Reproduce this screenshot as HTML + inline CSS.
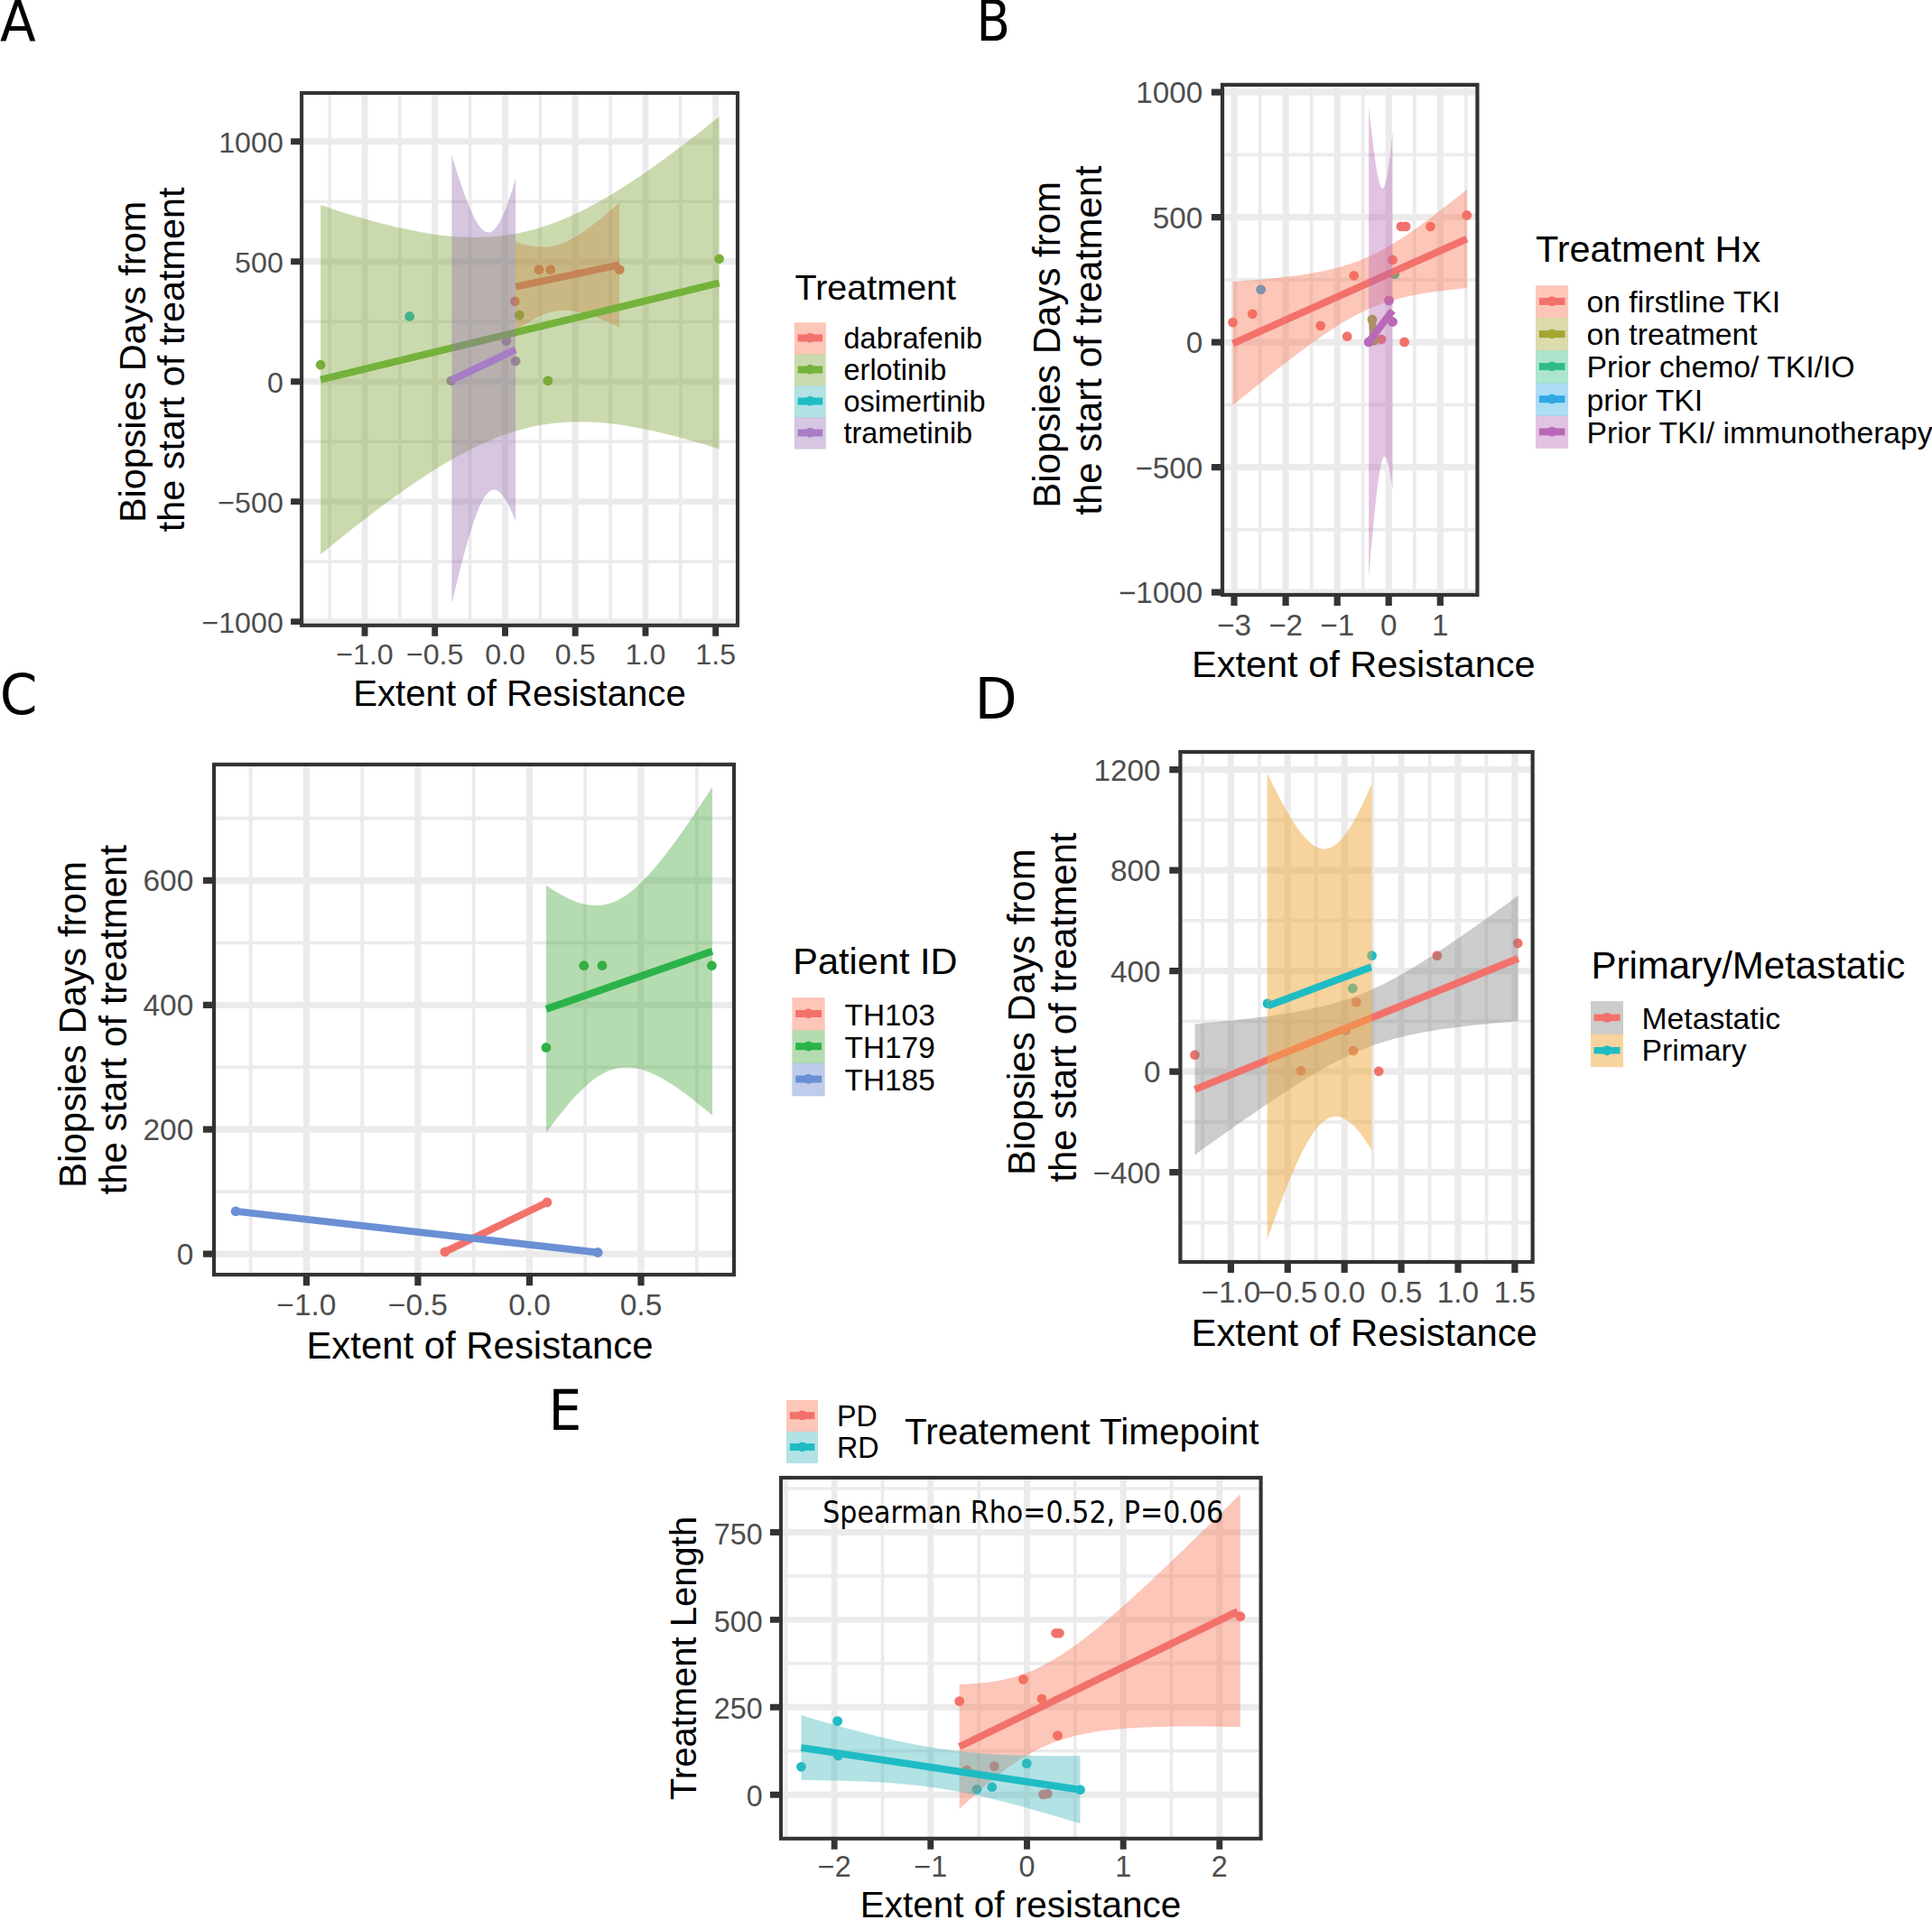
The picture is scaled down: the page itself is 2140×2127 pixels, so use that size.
<!DOCTYPE html>
<html lang="en"><head><meta charset="utf-8"><title>Figure</title>
<style>html,body{margin:0;padding:0;background:#fff}svg{display:block}</style></head>
<body>
<svg width="2140" height="2127" viewBox="0 0 2140 2127" font-family="'Liberation Sans', Arial, Helvetica, sans-serif" fill="#000">
<rect width="2140" height="2127" fill="#fff"/>
<g font-family="'DejaVu Sans Condensed','DejaVu Sans','Liberation Sans',sans-serif" font-stretch="condensed" font-size="62">
<text transform="translate(0,45.5) scale(1.04,1)">A</text>
<text transform="translate(1081.4,45.3) scale(0.98,1)">B</text>
<text transform="translate(-0.3,791.4) scale(1.07,1)">C</text>
<text transform="translate(1079.4,796.3) scale(1.1,1)">D</text>
<text transform="translate(607.4,1584) scale(1.045,1)">E</text>
</g>
<clipPath id="cA"><rect x="334.1" y="103" width="482.9" height="589.8"/></clipPath>
<g clip-path="url(#cA)">
<rect x="334.1" y="103" width="482.9" height="589.8" fill="#fff"/>
<path d="M365.1,103V692.8M442.9,103V692.8M520.6,103V692.8M598.4,103V692.8M676.1,103V692.8M753.8,103V692.8M334.1,223.2H817M334.1,356.2H817M334.1,489.1H817M334.1,622.1H817" stroke="#ebebeb" stroke-width="3.6" fill="none"/>
<path d="M404,103V692.8M481.7,103V692.8M559.5,103V692.8M637.2,103V692.8M715,103V692.8M792.7,103V692.8M334.1,156.7H817M334.1,289.7H817M334.1,422.7H817M334.1,555.6H817M334.1,688.6H817" stroke="#ebebeb" stroke-width="6.9" fill="none"/>
<g fill="#74b23c"><circle cx="355.1" cy="404.2" r="5.4"/><circle cx="796.6" cy="286.8" r="5.4"/><circle cx="575.3" cy="349.1" r="5.4"/><circle cx="606.9" cy="421.8" r="5.4"/></g>
<g fill="#1fbcc4"><circle cx="453.7" cy="350.5" r="5.4"/></g>
<g fill="#f3716b"><circle cx="596.8" cy="298.6" r="5.4"/><circle cx="609.7" cy="298.6" r="5.4"/><circle cx="686.2" cy="298.6" r="5.4"/><circle cx="570.3" cy="333.8" r="5.4"/></g>
<g fill="#a87cc6"><circle cx="560.8" cy="377.6" r="5.4"/><circle cx="571.1" cy="400" r="5.4"/><circle cx="499.8" cy="421.8" r="5.4"/></g>
<path d="M571.1,268 L573,268.6 L574.9,269.2 L576.9,269.8 L578.8,270.4 L580.7,270.9 L582.6,271.3 L584.5,271.8 L586.4,272.2 L588.4,272.5 L590.3,272.8 L592.2,273.1 L594.1,273.3 L596,273.5 L598,273.6 L599.9,273.7 L601.8,273.6 L603.7,273.6 L605.6,273.5 L607.5,273.3 L609.5,273 L611.4,272.7 L613.3,272.3 L615.2,271.9 L617.1,271.4 L619.1,270.8 L621,270.2 L622.9,269.5 L624.8,268.7 L626.7,267.9 L628.7,267 L630.6,266.1 L632.5,265.1 L634.4,264 L636.3,262.9 L638.2,261.8 L640.2,260.6 L642.1,259.4 L644,258.2 L645.9,256.9 L647.8,255.5 L649.8,254.2 L651.7,252.8 L653.6,251.4 L655.5,249.9 L657.4,248.5 L659.3,247 L661.3,245.4 L663.2,243.9 L665.1,242.3 L667,240.8 L668.9,239.2 L670.9,237.6 L672.8,235.9 L674.7,234.3 L676.6,232.6 L678.5,231 L680.4,229.3 L682.4,227.6 L684.3,225.9 L686.2,224.2 L686.2,362.6 L684.3,361.7 L682.4,360.8 L680.4,359.9 L678.5,359 L676.6,358.2 L674.7,357.3 L672.8,356.5 L670.9,355.7 L668.9,354.9 L667,354.1 L665.1,353.3 L663.2,352.6 L661.3,351.8 L659.3,351.1 L657.4,350.4 L655.5,349.8 L653.6,349.1 L651.7,348.5 L649.8,347.9 L647.8,347.4 L645.9,346.9 L644,346.4 L642.1,345.9 L640.2,345.5 L638.2,345.2 L636.3,344.8 L634.4,344.6 L632.5,344.3 L630.6,344.1 L628.7,344 L626.7,343.9 L624.8,343.9 L622.9,344 L621,344.1 L619.1,344.2 L617.1,344.5 L615.2,344.8 L613.3,345.1 L611.4,345.6 L609.5,346 L607.5,346.6 L605.6,347.2 L603.7,347.9 L601.8,348.6 L599.9,349.4 L598,350.3 L596,351.2 L594.1,352.2 L592.2,353.2 L590.3,354.3 L588.4,355.4 L586.4,356.6 L584.5,357.8 L582.6,359 L580.7,360.3 L578.8,361.6 L576.9,363 L574.9,364.4 L573,365.8 L571.1,367.2Z" fill="#f77050" fill-opacity="0.4"/>
<path d="M571.1,317.6L686.2,293.4" stroke="#f3716b" stroke-width="8" fill="none"/>
<path d="M355.1,227.2 L362.5,229.6 L369.8,232 L377.2,234.4 L384.5,236.7 L391.9,238.9 L399.2,241.1 L406.6,243.2 L414,245.2 L421.3,247.2 L428.7,249 L436,250.8 L443.4,252.5 L450.8,254.1 L458.1,255.6 L465.5,257 L472.8,258.3 L480.2,259.4 L487.6,260.4 L494.9,261.2 L502.3,261.9 L509.6,262.4 L517,262.7 L524.3,262.9 L531.7,262.8 L539.1,262.6 L546.4,262.1 L553.8,261.4 L561.1,260.5 L568.5,259.3 L575.9,257.9 L583.2,256.3 L590.6,254.4 L597.9,252.3 L605.3,249.9 L612.6,247.3 L620,244.5 L627.4,241.4 L634.7,238.1 L642.1,234.7 L649.4,231 L656.8,227.1 L664.2,223.1 L671.5,218.8 L678.9,214.5 L686.2,209.9 L693.6,205.2 L700.9,200.4 L708.3,195.5 L715.7,190.5 L723,185.3 L730.4,180.1 L737.7,174.7 L745.1,169.3 L752.5,163.7 L759.8,158.2 L767.2,152.5 L774.5,146.8 L781.9,141 L789.2,135.1 L796.6,129.2 L796.6,497.6 L789.2,495.3 L781.9,493 L774.5,490.8 L767.2,488.6 L759.8,486.5 L752.5,484.5 L745.1,482.6 L737.7,480.7 L730.4,478.9 L723,477.3 L715.7,475.7 L708.3,474.2 L700.9,472.9 L693.6,471.6 L686.2,470.5 L678.9,469.6 L671.5,468.8 L664.2,468.1 L656.8,467.7 L649.4,467.4 L642.1,467.3 L634.7,467.4 L627.4,467.7 L620,468.2 L612.6,468.9 L605.3,469.9 L597.9,471.1 L590.6,472.6 L583.2,474.3 L575.9,476.2 L568.5,478.4 L561.1,480.8 L553.8,483.4 L546.4,486.3 L539.1,489.4 L531.7,492.7 L524.3,496.3 L517,500 L509.6,503.9 L502.3,508 L494.9,512.2 L487.6,516.6 L480.2,521.2 L472.8,525.9 L465.5,530.7 L458.1,535.7 L450.8,540.8 L443.4,546 L436,551.2 L428.7,556.6 L421.3,562.1 L414,567.6 L406.6,573.2 L399.2,578.9 L391.9,584.6 L384.5,590.4 L377.2,596.3 L369.8,602.2 L362.5,608.2 L355.1,614.2Z" fill="#7da234" fill-opacity="0.4"/>
<path d="M355.1,420.7L796.6,313.4" stroke="#74b23c" stroke-width="8" fill="none"/>
<path d="M500.4,171.8 L501.6,175.7 L502.8,179.6 L503.9,183.4 L505.1,187.2 L506.3,190.9 L507.5,194.6 L508.6,198.2 L509.8,201.8 L511,205.3 L512.2,208.7 L513.4,212.1 L514.5,215.3 L515.7,218.5 L516.9,221.7 L518.1,224.7 L519.3,227.6 L520.4,230.5 L521.6,233.2 L522.8,235.8 L524,238.3 L525.1,240.7 L526.3,243 L527.5,245.1 L528.7,247.1 L529.9,248.9 L531,250.5 L532.2,252 L533.4,253.4 L534.6,254.5 L535.8,255.5 L536.9,256.3 L538.1,256.8 L539.3,257.2 L540.5,257.4 L541.6,257.4 L542.8,257.2 L544,256.7 L545.2,256.1 L546.4,255.2 L547.5,254.1 L548.7,252.9 L549.9,251.4 L551.1,249.8 L552.2,247.9 L553.4,245.9 L554.6,243.7 L555.8,241.3 L557,238.8 L558.1,236 L559.3,233.2 L560.5,230.2 L561.7,227 L562.9,223.7 L564,220.3 L565.2,216.7 L566.4,213.1 L567.6,209.3 L568.7,205.4 L569.9,201.5 L571.1,197.4 L571.1,577.4 L569.9,574.4 L568.7,571.6 L567.6,568.8 L566.4,566.1 L565.2,563.5 L564,561.1 L562.9,558.8 L561.7,556.6 L560.5,554.5 L559.3,552.6 L558.1,550.8 L557,549.2 L555.8,547.7 L554.6,546.5 L553.4,545.3 L552.2,544.4 L551.1,543.7 L549.9,543.1 L548.7,542.8 L547.5,542.6 L546.4,542.6 L545.2,542.9 L544,543.3 L542.8,544 L541.6,544.8 L540.5,545.9 L539.3,547.2 L538.1,548.7 L536.9,550.3 L535.8,552.2 L534.6,554.3 L533.4,556.5 L532.2,558.9 L531,561.5 L529.9,564.3 L528.7,567.2 L527.5,570.3 L526.3,573.5 L525.1,576.8 L524,580.3 L522.8,583.9 L521.6,587.6 L520.4,591.5 L519.3,595.4 L518.1,599.4 L516.9,603.6 L515.7,607.8 L514.5,612.1 L513.4,616.5 L512.2,620.9 L511,625.5 L509.8,630.1 L508.6,634.7 L507.5,639.4 L506.3,644.2 L505.1,649 L503.9,653.9 L502.8,658.8 L501.6,663.8 L500.4,668.8Z" fill="#9870b1" fill-opacity="0.4"/>
<path d="M500.4,420.8L571.1,387.4" stroke="#a87cc6" stroke-width="8" fill="none"/>
</g>
<rect x="334.1" y="103" width="482.9" height="589.8" fill="none" stroke="#333333" stroke-width="4.1"/>
<path d="M404,694.3v10.5M481.7,694.3v10.5M559.5,694.3v10.5M637.2,694.3v10.5M715,694.3v10.5M792.7,694.3v10.5M332.6,156.7h-10.5M332.6,289.7h-10.5M332.6,422.7h-10.5M332.6,555.6h-10.5M332.6,688.6h-10.5" stroke="#333333" stroke-width="6.9" fill="none"/>
<g font-size="32.2" fill="#4d4d4d">
<text x="404" y="735.6" text-anchor="middle">−1.0</text>
<text x="481.7" y="735.6" text-anchor="middle">−0.5</text>
<text x="559.5" y="735.6" text-anchor="middle">0.0</text>
<text x="637.2" y="735.6" text-anchor="middle">0.5</text>
<text x="715" y="735.6" text-anchor="middle">1.0</text>
<text x="792.7" y="735.6" text-anchor="middle">1.5</text>
<text x="313.8" y="168.7" text-anchor="end">1000</text>
<text x="313.8" y="301.7" text-anchor="end">500</text>
<text x="313.8" y="434.7" text-anchor="end">0</text>
<text x="313.8" y="567.7" text-anchor="end">−500</text>
<text x="313.8" y="700.6" text-anchor="end">−1000</text>
</g>
<text x="575.5" y="781.5" text-anchor="middle" font-size="40.2">Extent of Resistance</text>
<text transform="translate(160.9,401) rotate(-90) scale(1.024,1)" text-anchor="middle" font-size="40.4">Biopsies Days from</text>
<text transform="translate(203.8,398.4) rotate(-90) scale(1.024,1)" text-anchor="middle" font-size="40.4">the start of treatment</text>
<text x="880.5" y="331.5" font-size="39.5">Treatment</text>
<rect x="879.8" y="357.3" width="35" height="35.3" fill="#f77050" fill-opacity="0.4"/>
<path d="M883.6,374.5H911.2" stroke="#f3716b" stroke-width="8"/>
<circle cx="897.3" cy="374.2" r="5.4" fill="#f3716b"/>
<text x="934.5" y="385.6" font-size="32.5">dabrafenib</text>
<rect x="879.8" y="392.3" width="35" height="35.3" fill="#7da234" fill-opacity="0.4"/>
<path d="M883.6,409.5H911.2" stroke="#74b23c" stroke-width="8"/>
<circle cx="897.3" cy="409.2" r="5.4" fill="#74b23c"/>
<text x="934.5" y="420.6" font-size="32.5">erlotinib</text>
<rect x="879.8" y="427.3" width="35" height="35.3" fill="#3eb6bb" fill-opacity="0.4"/>
<path d="M883.6,444.5H911.2" stroke="#1fbcc4" stroke-width="8"/>
<circle cx="897.3" cy="444.2" r="5.4" fill="#1fbcc4"/>
<text x="934.5" y="455.6" font-size="32.5">osimertinib</text>
<rect x="879.8" y="462.3" width="35" height="35.3" fill="#9870b1" fill-opacity="0.4"/>
<path d="M883.6,479.5H911.2" stroke="#a87cc6" stroke-width="8"/>
<circle cx="897.3" cy="479.2" r="5.4" fill="#a87cc6"/>
<text x="934.5" y="490.6" font-size="32.5">trametinib</text>
<clipPath id="cB"><rect x="1354" y="93.9" width="282.4" height="565.1"/></clipPath>
<g clip-path="url(#cB)">
<rect x="1354" y="93.9" width="282.4" height="565.1" fill="#fff"/>
<path d="M1395.5,93.9V659M1452.6,93.9V659M1509.7,93.9V659M1566.8,93.9V659M1623.8,93.9V659M1354,171.4H1636.4M1354,309.9H1636.4M1354,448.4H1636.4M1354,586.9H1636.4" stroke="#ebebeb" stroke-width="3.8" fill="none"/>
<path d="M1367,93.9V659M1424.1,93.9V659M1481.2,93.9V659M1538.2,93.9V659M1595.3,93.9V659M1354,102.1H1636.4M1354,240.6H1636.4M1354,379.1H1636.4M1354,517.7H1636.4M1354,656.2H1636.4" stroke="#ebebeb" stroke-width="7.2" fill="none"/>
<g fill="#f3716b"><circle cx="1365.5" cy="357.1" r="5.4"/><circle cx="1387.3" cy="347.8" r="5.4"/><circle cx="1462.7" cy="360.9" r="5.4"/><circle cx="1492.2" cy="372.7" r="5.4"/><circle cx="1499.7" cy="305.3" r="5.4"/><circle cx="1530.1" cy="375.8" r="5.4"/><circle cx="1555.6" cy="378.9" r="5.4"/><circle cx="1542.5" cy="287.9" r="5.4"/><circle cx="1551.9" cy="250.9" r="5.4"/><circle cx="1557.1" cy="250.9" r="5.4"/><circle cx="1584.5" cy="250.9" r="5.4"/><circle cx="1624.8" cy="238.5" r="5.4"/></g>
<g fill="#a5a532"><circle cx="1519.9" cy="354" r="5.4"/><circle cx="1522" cy="377.3" r="5.4"/></g>
<g fill="#2ebd85"><circle cx="1544.7" cy="303.7" r="5.4"/></g>
<g fill="#2fa9e6"><circle cx="1396.6" cy="320.8" r="5.4"/></g>
<g fill="#b868b7"><circle cx="1538.5" cy="332.9" r="5.4"/><circle cx="1542.5" cy="356.5" r="5.4"/><circle cx="1516.1" cy="378.9" r="5.4"/></g>
<path d="M1365.5,312.1 L1369.8,311.8 L1374.1,311.5 L1378.5,311.1 L1382.8,310.8 L1387.1,310.4 L1391.4,310.1 L1395.8,309.7 L1400.1,309.3 L1404.4,308.9 L1408.7,308.5 L1413,308 L1417.4,307.6 L1421.7,307.1 L1426,306.6 L1430.3,306 L1434.6,305.5 L1439,304.9 L1443.3,304.2 L1447.6,303.6 L1451.9,302.9 L1456.3,302.1 L1460.6,301.3 L1464.9,300.4 L1469.2,299.5 L1473.5,298.5 L1477.9,297.5 L1482.2,296.4 L1486.5,295.1 L1490.8,293.8 L1495.2,292.5 L1499.5,291 L1503.8,289.4 L1508.1,287.7 L1512.4,285.8 L1516.8,283.9 L1521.1,281.9 L1525.4,279.7 L1529.7,277.5 L1534,275.1 L1538.4,272.6 L1542.7,270.1 L1547,267.4 L1551.3,264.7 L1555.7,261.9 L1560,259 L1564.3,256 L1568.6,253 L1572.9,249.9 L1577.3,246.8 L1581.6,243.6 L1585.9,240.4 L1590.2,237.1 L1594.5,233.8 L1598.9,230.5 L1603.2,227.1 L1607.5,223.8 L1611.8,220.3 L1616.2,216.9 L1620.5,213.5 L1624.8,210 L1624.8,319.2 L1620.5,319.6 L1616.2,320 L1611.8,320.5 L1607.5,320.9 L1603.2,321.4 L1598.9,321.9 L1594.5,322.5 L1590.2,323 L1585.9,323.6 L1581.6,324.3 L1577.3,325 L1572.9,325.7 L1568.6,326.5 L1564.3,327.3 L1560,328.2 L1555.7,329.2 L1551.3,330.3 L1547,331.4 L1542.7,332.6 L1538.4,333.9 L1534,335.3 L1529.7,336.8 L1525.4,338.4 L1521.1,340.1 L1516.8,341.9 L1512.4,343.9 L1508.1,345.9 L1503.8,348.1 L1499.5,350.4 L1495.2,352.7 L1490.8,355.2 L1486.5,357.8 L1482.2,360.4 L1477.9,363.2 L1473.5,366 L1469.2,368.9 L1464.9,371.8 L1460.6,374.8 L1456.3,377.9 L1451.9,381 L1447.6,384.2 L1443.3,387.4 L1439,390.6 L1434.6,393.9 L1430.3,397.2 L1426,400.5 L1421.7,403.9 L1417.4,407.2 L1413,410.6 L1408.7,414.1 L1404.4,417.5 L1400.1,421 L1395.8,424.4 L1391.4,427.9 L1387.1,431.4 L1382.8,434.9 L1378.5,438.5 L1374.1,442 L1369.8,445.5 L1365.5,449.1Z" fill="#f77050" fill-opacity="0.4"/>
<path d="M1365.5,380.6L1624.8,264.6" stroke="#f3716b" stroke-width="8" fill="none"/>
<path d="M1519.9,354L1522,377.3" stroke="#a5a532" stroke-width="8" fill="none"/>
<path d="M1516.1,118 L1516.5,122.1 L1517,126.2 L1517.4,130.2 L1517.9,134.1 L1518.3,138.1 L1518.7,141.9 L1519.2,145.7 L1519.6,149.5 L1520.1,153.1 L1520.5,156.7 L1520.9,160.3 L1521.4,163.7 L1521.8,167.1 L1522.3,170.4 L1522.7,173.6 L1523.1,176.7 L1523.6,179.7 L1524,182.6 L1524.5,185.4 L1524.9,188 L1525.3,190.5 L1525.8,192.9 L1526.2,195.2 L1526.7,197.3 L1527.1,199.2 L1527.5,201 L1528,202.6 L1528.4,204.1 L1528.9,205.3 L1529.3,206.4 L1529.7,207.2 L1530.2,207.9 L1530.6,208.4 L1531.1,208.6 L1531.5,208.6 L1531.9,208.4 L1532.4,208 L1532.8,207.4 L1533.3,206.6 L1533.7,205.5 L1534.1,204.2 L1534.6,202.7 L1535,201 L1535.5,199.1 L1535.9,196.9 L1536.3,194.6 L1536.8,192.1 L1537.2,189.5 L1537.7,186.6 L1538.1,183.6 L1538.5,180.4 L1539,177.1 L1539.4,173.6 L1539.9,170 L1540.3,166.2 L1540.7,162.3 L1541.2,158.3 L1541.6,154.2 L1542.1,150 L1542.5,145.7 L1542.5,542.5 L1542.1,539.3 L1541.6,536.3 L1541.2,533.4 L1540.7,530.5 L1540.3,527.8 L1539.9,525.2 L1539.4,522.7 L1539,520.4 L1538.5,518.3 L1538.1,516.2 L1537.7,514.4 L1537.2,512.7 L1536.8,511.1 L1536.3,509.8 L1535.9,508.7 L1535.5,507.7 L1535,506.9 L1534.6,506.4 L1534.1,506 L1533.7,505.9 L1533.3,506 L1532.8,506.3 L1532.4,506.8 L1531.9,507.6 L1531.5,508.6 L1531.1,509.8 L1530.6,511.2 L1530.2,512.8 L1529.7,514.6 L1529.3,516.6 L1528.9,518.8 L1528.4,521.3 L1528,523.8 L1527.5,526.6 L1527.1,529.6 L1526.7,532.7 L1526.2,535.9 L1525.8,539.3 L1525.3,542.9 L1524.9,546.6 L1524.5,550.4 L1524,554.3 L1523.6,558.4 L1523.1,562.6 L1522.7,566.8 L1522.3,571.2 L1521.8,575.6 L1521.4,580.2 L1520.9,584.8 L1520.5,589.5 L1520.1,594.2 L1519.6,599.1 L1519.2,604 L1518.7,608.9 L1518.3,613.9 L1517.9,619 L1517.4,624.1 L1517,629.3 L1516.5,634.5 L1516.1,639.8Z" fill="#b868b7" fill-opacity="0.4"/>
<path d="M1516.1,378.9L1542.5,344.1" stroke="#b868b7" stroke-width="8" fill="none"/>
</g>
<rect x="1354" y="93.9" width="282.4" height="565.1" fill="none" stroke="#333333" stroke-width="4.2"/>
<path d="M1367,660.6v10.5M1424.1,660.6v10.5M1481.2,660.6v10.5M1538.2,660.6v10.5M1595.3,660.6v10.5M1352.4,102.1h-10.5M1352.4,240.6h-10.5M1352.4,379.1h-10.5M1352.4,517.7h-10.5M1352.4,656.2h-10.5" stroke="#333333" stroke-width="7.2" fill="none"/>
<g font-size="33.2" fill="#4d4d4d">
<text x="1367" y="704" text-anchor="middle">−3</text>
<text x="1424.1" y="704" text-anchor="middle">−2</text>
<text x="1481.2" y="704" text-anchor="middle">−1</text>
<text x="1538.2" y="704" text-anchor="middle">0</text>
<text x="1595.3" y="704" text-anchor="middle">1</text>
<text x="1332.2" y="114" text-anchor="end">1000</text>
<text x="1332.2" y="252.5" text-anchor="end">500</text>
<text x="1332.2" y="391" text-anchor="end">0</text>
<text x="1332.2" y="529.6" text-anchor="end">−500</text>
<text x="1332.2" y="668.1" text-anchor="end">−1000</text>
</g>
<text x="1510.3" y="750.4" text-anchor="middle" font-size="41.5">Extent of Resistance</text>
<text transform="translate(1174,381.8) rotate(-90) scale(1,1)" text-anchor="middle" font-size="42">Biopsies Days from</text>
<text transform="translate(1220.3,377) rotate(-90) scale(1,1)" text-anchor="middle" font-size="42">the start of treatment</text>
<text x="1701" y="289.5" font-size="41.4">Treatment Hx</text>
<rect x="1701" y="316.2" width="36.1" height="36.4" fill="#f77050" fill-opacity="0.4"/>
<path d="M1704.8,333.9H1733.5" stroke="#f3716b" stroke-width="8"/>
<circle cx="1719" cy="333.6" r="5.4" fill="#f3716b"/>
<text x="1757.5" y="345.6" font-size="33.7">on firstline TKI</text>
<rect x="1701" y="352.3" width="36.1" height="36.4" fill="#a5a532" fill-opacity="0.4"/>
<path d="M1704.8,370.1H1733.5" stroke="#a5a532" stroke-width="8"/>
<circle cx="1719" cy="369.8" r="5.4" fill="#a5a532"/>
<text x="1757.5" y="381.9" font-size="33.7">on treatment</text>
<rect x="1701" y="388.4" width="36.1" height="36.4" fill="#2ebd85" fill-opacity="0.4"/>
<path d="M1704.8,406.1H1733.5" stroke="#2ebd85" stroke-width="8"/>
<circle cx="1719" cy="405.8" r="5.4" fill="#2ebd85"/>
<text x="1757.5" y="418.2" font-size="33.7">Prior chemo/ TKI/IO</text>
<rect x="1701" y="424.5" width="36.1" height="36.4" fill="#2fa9e6" fill-opacity="0.4"/>
<path d="M1704.8,442.2H1733.5" stroke="#2fa9e6" stroke-width="8"/>
<circle cx="1719" cy="441.9" r="5.4" fill="#2fa9e6"/>
<text x="1757.5" y="454.5" font-size="33.7">prior TKI</text>
<rect x="1701" y="460.6" width="36.1" height="36.4" fill="#b868b7" fill-opacity="0.4"/>
<path d="M1704.8,478.4H1733.5" stroke="#b868b7" stroke-width="8"/>
<circle cx="1719" cy="478.1" r="5.4" fill="#b868b7"/>
<text x="1757.5" y="490.8" font-size="33.7">Prior TKI/ immunotherapy</text>
<clipPath id="cC"><rect x="237" y="846.9" width="576" height="565.2"/></clipPath>
<g clip-path="url(#cC)">
<rect x="237" y="846.9" width="576" height="565.2" fill="#fff"/>
<path d="M277.6,846.9V1412.1M401.2,846.9V1412.1M524.7,846.9V1412.1M648.2,846.9V1412.1M771.8,846.9V1412.1M237,906.5H813M237,1044.3H813M237,1182.2H813M237,1320.1H813" stroke="#ebebeb" stroke-width="3.8" fill="none"/>
<path d="M339.4,846.9V1412.1M462.9,846.9V1412.1M586.5,846.9V1412.1M710,846.9V1412.1M237,975.4H813M237,1113.3H813M237,1251.2H813M237,1389.1H813" stroke="#ebebeb" stroke-width="7.2" fill="none"/>
<g fill="#2bb34a"><circle cx="605" cy="1160.5" r="5.4"/><circle cx="646.8" cy="1069.7" r="5.4"/><circle cx="667" cy="1069.7" r="5.4"/><circle cx="788.4" cy="1069.7" r="5.4"/></g>
<g fill="#f3716b"><circle cx="492.8" cy="1386.8" r="5.4"/><circle cx="606" cy="1332" r="5.4"/></g>
<g fill="#6a8fd4"><circle cx="261.1" cy="1341.9" r="5.4"/><circle cx="662.2" cy="1387.5" r="5.4"/></g>
<path d="M492.8,1386.8L606,1332" stroke="#f3716b" stroke-width="8" fill="none"/>
<path d="M605,980.9 L608.1,983 L611.1,985 L614.2,986.9 L617.3,988.8 L620.3,990.6 L623.4,992.2 L626.5,993.8 L629.5,995.3 L632.6,996.7 L635.7,998 L638.7,999.2 L641.8,1000.2 L644.9,1001.1 L647.9,1001.8 L651,1002.4 L654.1,1002.8 L657.1,1003.1 L660.2,1003.2 L663.3,1003.1 L666.3,1002.8 L669.4,1002.3 L672.5,1001.6 L675.5,1000.8 L678.6,999.7 L681.7,998.4 L684.7,996.9 L687.8,995.3 L690.9,993.4 L693.9,991.4 L697,989.2 L700.1,986.8 L703.1,984.2 L706.2,981.5 L709.3,978.6 L712.3,975.6 L715.4,972.4 L718.5,969.1 L721.5,965.7 L724.6,962.2 L727.7,958.5 L730.7,954.8 L733.8,951 L736.9,947.1 L739.9,943.1 L743,939 L746.1,934.9 L749.1,930.7 L752.2,926.4 L755.3,922.1 L758.3,917.7 L761.4,913.3 L764.5,908.8 L767.5,904.3 L770.6,899.8 L773.7,895.2 L776.7,890.5 L779.8,885.9 L782.9,881.2 L785.9,876.5 L789,871.7 L789,1235.7 L785.9,1233.1 L782.9,1230.5 L779.8,1227.9 L776.7,1225.4 L773.7,1222.9 L770.6,1220.5 L767.5,1218.1 L764.5,1215.7 L761.4,1213.4 L758.3,1211.1 L755.3,1208.8 L752.2,1206.7 L749.1,1204.5 L746.1,1202.5 L743,1200.5 L739.9,1198.5 L736.9,1196.7 L733.8,1194.9 L730.7,1193.2 L727.7,1191.7 L724.6,1190.2 L721.5,1188.8 L718.5,1187.5 L715.4,1186.4 L712.3,1185.3 L709.3,1184.5 L706.2,1183.7 L703.1,1183.1 L700.1,1182.7 L697,1182.4 L693.9,1182.4 L690.9,1182.5 L687.8,1182.7 L684.7,1183.2 L681.7,1183.9 L678.6,1184.7 L675.5,1185.8 L672.5,1187.1 L669.4,1188.5 L666.3,1190.2 L663.3,1192.1 L660.2,1194.1 L657.1,1196.3 L654.1,1198.7 L651,1201.3 L647.9,1204 L644.9,1206.9 L641.8,1209.9 L638.7,1213.1 L635.7,1216.4 L632.6,1219.8 L629.5,1223.3 L626.5,1227 L623.4,1230.7 L620.3,1234.5 L617.3,1238.5 L614.2,1242.5 L611.1,1246.5 L608.1,1250.7 L605,1254.9Z" fill="#46a739" fill-opacity="0.4"/>
<path d="M605,1117.9L789,1053.7" stroke="#2bb34a" stroke-width="8" fill="none"/>
<path d="M261.1,1341.9L662.2,1387.5" stroke="#6a8fd4" stroke-width="8" fill="none"/>
</g>
<rect x="237" y="846.9" width="576" height="565.2" fill="none" stroke="#333333" stroke-width="4.2"/>
<path d="M339.4,1413.7v10.5M462.9,1413.7v10.5M586.5,1413.7v10.5M710,1413.7v10.5M235.4,975.4h-10.5M235.4,1113.3h-10.5M235.4,1251.2h-10.5M235.4,1389.1h-10.5" stroke="#333333" stroke-width="7.2" fill="none"/>
<g font-size="33.5" fill="#4d4d4d">
<text x="339.4" y="1456.5" text-anchor="middle">−1.0</text>
<text x="462.9" y="1456.5" text-anchor="middle">−0.5</text>
<text x="586.5" y="1456.5" text-anchor="middle">0.0</text>
<text x="710" y="1456.5" text-anchor="middle">0.5</text>
<text x="214.4" y="987.4" text-anchor="end">600</text>
<text x="214.4" y="1125.3" text-anchor="end">400</text>
<text x="214.4" y="1263.2" text-anchor="end">200</text>
<text x="214.4" y="1401.1" text-anchor="end">0</text>
</g>
<text x="531.5" y="1504.6" text-anchor="middle" font-size="41.9">Extent of Resistance</text>
<text transform="translate(94.5,1135) rotate(-90) scale(1,1)" text-anchor="middle" font-size="42">Biopsies Days from</text>
<text transform="translate(140.3,1129.7) rotate(-90) scale(1,1)" text-anchor="middle" font-size="42">the start of treatment</text>
<text x="878.3" y="1079.2" font-size="41.5">Patient ID</text>
<rect x="877.4" y="1105.1" width="36.3" height="36.6" fill="#f77050" fill-opacity="0.4"/>
<path d="M881.2,1123H910.1" stroke="#f3716b" stroke-width="8"/>
<circle cx="895.5" cy="1122.7" r="5.4" fill="#f3716b"/>
<text x="935.5" y="1135.5" font-size="33.4">TH103</text>
<rect x="877.4" y="1141.4" width="36.3" height="36.6" fill="#46a739" fill-opacity="0.4"/>
<path d="M881.2,1159.2H910.1" stroke="#2bb34a" stroke-width="8"/>
<circle cx="895.5" cy="1159" r="5.4" fill="#2bb34a"/>
<text x="935.5" y="1171.8" font-size="33.4">TH179</text>
<rect x="877.4" y="1177.7" width="36.3" height="36.6" fill="#5c7ccc" fill-opacity="0.4"/>
<path d="M881.2,1195.5H910.1" stroke="#6a8fd4" stroke-width="8"/>
<circle cx="895.5" cy="1195.2" r="5.4" fill="#6a8fd4"/>
<text x="935.5" y="1208.1" font-size="33.4">TH185</text>
<clipPath id="cD"><rect x="1307.4" y="833" width="390.2" height="565"/></clipPath>
<g clip-path="url(#cD)">
<rect x="1307.4" y="833" width="390.2" height="565" fill="#fff"/>
<path d="M1332,833V1398M1394.9,833V1398M1457.8,833V1398M1520.7,833V1398M1583.6,833V1398M1646.5,833V1398M1307.4,908.4H1697.6M1307.4,1019.9H1697.6M1307.4,1131.4H1697.6M1307.4,1242.9H1697.6M1307.4,1354.5H1697.6" stroke="#ebebeb" stroke-width="3.8" fill="none"/>
<path d="M1363.4,833V1398M1426.3,833V1398M1489.2,833V1398M1552.1,833V1398M1615,833V1398M1677.9,833V1398M1307.4,852.6H1697.6M1307.4,964.1H1697.6M1307.4,1075.7H1697.6M1307.4,1187.2H1697.6M1307.4,1298.7H1697.6" stroke="#ebebeb" stroke-width="7.2" fill="none"/>
<g fill="#f3716b"><circle cx="1323.5" cy="1168.6" r="5.4"/><circle cx="1441" cy="1186.1" r="5.4"/><circle cx="1527.2" cy="1186.8" r="5.4"/><circle cx="1499" cy="1163.9" r="5.4"/><circle cx="1490.7" cy="1141.4" r="5.4"/><circle cx="1502.3" cy="1110.1" r="5.4"/><circle cx="1591.8" cy="1058.6" r="5.4"/><circle cx="1681.2" cy="1045" r="5.4"/></g>
<g fill="#1fbcc4"><circle cx="1519.5" cy="1058.6" r="5.4"/><circle cx="1404" cy="1111.6" r="5.4"/><circle cx="1498.3" cy="1095" r="5.4"/></g>
<path d="M1323.5,1134.4 L1329.5,1133.9 L1335.4,1133.3 L1341.4,1132.8 L1347.4,1132.2 L1353.3,1131.6 L1359.3,1131 L1365.3,1130.4 L1371.2,1129.8 L1377.2,1129.1 L1383.2,1128.4 L1389.2,1127.7 L1395.1,1127 L1401.1,1126.2 L1407.1,1125.4 L1413,1124.5 L1419,1123.6 L1425,1122.7 L1430.9,1121.7 L1436.9,1120.7 L1442.9,1119.5 L1448.8,1118.4 L1454.8,1117.1 L1460.8,1115.7 L1466.7,1114.3 L1472.7,1112.7 L1478.7,1111.1 L1484.6,1109.3 L1490.6,1107.4 L1496.6,1105.4 L1502.5,1103.2 L1508.5,1100.9 L1514.5,1098.4 L1520.5,1095.8 L1526.4,1093.1 L1532.4,1090.2 L1538.4,1087.1 L1544.3,1084 L1550.3,1080.7 L1556.3,1077.3 L1562.2,1073.8 L1568.2,1070.2 L1574.2,1066.5 L1580.1,1062.7 L1586.1,1058.9 L1592.1,1055 L1598,1051.1 L1604,1047.1 L1610,1043 L1615.9,1039 L1621.9,1034.8 L1627.9,1030.7 L1633.9,1026.5 L1639.8,1022.3 L1645.8,1018 L1651.8,1013.8 L1657.7,1009.5 L1663.7,1005.2 L1669.7,1000.9 L1675.6,996.5 L1681.6,992.2 L1681.6,1131.2 L1675.6,1131.7 L1669.7,1132.2 L1663.7,1132.7 L1657.7,1133.3 L1651.8,1133.8 L1645.8,1134.4 L1639.8,1135 L1633.9,1135.6 L1627.9,1136.3 L1621.9,1137 L1615.9,1137.7 L1610,1138.4 L1604,1139.2 L1598,1140.1 L1592.1,1141 L1586.1,1141.9 L1580.1,1142.9 L1574.2,1144 L1568.2,1145.2 L1562.2,1146.4 L1556.3,1147.8 L1550.3,1149.2 L1544.3,1150.8 L1538.4,1152.4 L1532.4,1154.2 L1526.4,1156.2 L1520.5,1158.3 L1514.5,1160.5 L1508.5,1162.9 L1502.5,1165.4 L1496.6,1168.1 L1490.6,1170.9 L1484.6,1173.8 L1478.7,1176.9 L1472.7,1180.1 L1466.7,1183.3 L1460.8,1186.7 L1454.8,1190.2 L1448.8,1193.8 L1442.9,1197.5 L1436.9,1201.2 L1430.9,1205 L1425,1208.8 L1419,1212.7 L1413,1216.7 L1407.1,1220.7 L1401.1,1224.7 L1395.1,1228.8 L1389.2,1232.9 L1383.2,1237 L1377.2,1241.1 L1371.2,1245.3 L1365.3,1249.5 L1359.3,1253.7 L1353.3,1258 L1347.4,1262.2 L1341.4,1266.5 L1335.4,1270.8 L1329.5,1275.1 L1323.5,1279.4Z" fill="#7f7f7f" fill-opacity="0.4"/>
<path d="M1323.5,1206.9L1681.6,1061.7" stroke="#f3716b" stroke-width="8" fill="none"/>
<path d="M1403.6,856.4 L1405.5,860.4 L1407.5,864.4 L1409.4,868.4 L1411.3,872.3 L1413.3,876.1 L1415.2,879.9 L1417.1,883.6 L1419.1,887.2 L1421,890.8 L1422.9,894.3 L1424.8,897.7 L1426.8,901.1 L1428.7,904.3 L1430.6,907.5 L1432.6,910.5 L1434.5,913.5 L1436.4,916.3 L1438.4,919 L1440.3,921.6 L1442.2,924 L1444.2,926.4 L1446.1,928.5 L1448,930.5 L1450,932.4 L1451.9,934.1 L1453.8,935.6 L1455.8,936.9 L1457.7,938 L1459.6,938.9 L1461.5,939.6 L1463.5,940.1 L1465.4,940.4 L1467.3,940.4 L1469.3,940.2 L1471.2,939.8 L1473.1,939.2 L1475.1,938.3 L1477,937.3 L1478.9,936 L1480.9,934.5 L1482.8,932.7 L1484.7,930.8 L1486.7,928.7 L1488.6,926.4 L1490.5,923.8 L1492.5,921.1 L1494.4,918.3 L1496.3,915.2 L1498.3,912 L1500.2,908.6 L1502.1,905.1 L1504,901.4 L1506,897.6 L1507.9,893.7 L1509.8,889.7 L1511.8,885.5 L1513.7,881.2 L1515.6,876.8 L1517.6,872.4 L1519.5,867.8 L1519.5,1274.2 L1517.6,1271.1 L1515.6,1268.1 L1513.7,1265.2 L1511.8,1262.4 L1509.8,1259.7 L1507.9,1257.1 L1506,1254.6 L1504,1252.3 L1502.1,1250.1 L1500.2,1248 L1498.3,1246.1 L1496.3,1244.4 L1494.4,1242.8 L1492.5,1241.4 L1490.5,1240.2 L1488.6,1239.1 L1486.7,1238.2 L1484.7,1237.6 L1482.8,1237.1 L1480.9,1236.9 L1478.9,1236.8 L1477,1237 L1475.1,1237.4 L1473.1,1238 L1471.2,1238.8 L1469.3,1239.9 L1467.3,1241.2 L1465.4,1242.7 L1463.5,1244.4 L1461.5,1246.4 L1459.6,1248.6 L1457.7,1251 L1455.8,1253.5 L1453.8,1256.3 L1451.9,1259.3 L1450,1262.4 L1448,1265.7 L1446.1,1269.2 L1444.2,1272.8 L1442.2,1276.6 L1440.3,1280.5 L1438.4,1284.6 L1436.4,1288.8 L1434.5,1293.1 L1432.6,1297.5 L1430.6,1302 L1428.7,1306.6 L1426.8,1311.3 L1424.8,1316.1 L1422.9,1321 L1421,1326 L1419.1,1331 L1417.1,1336.1 L1415.2,1341.3 L1413.3,1346.6 L1411.3,1351.9 L1409.4,1357.2 L1407.5,1362.6 L1405.5,1368.1 L1403.6,1373.6Z" fill="#f0a93e" fill-opacity="0.5"/>
<path d="M1404.6,1114.3L1518.9,1071.2" stroke="#1fbcc4" stroke-width="8" fill="none"/>
</g>
<rect x="1307.4" y="833" width="390.2" height="565" fill="none" stroke="#333333" stroke-width="4.2"/>
<path d="M1363.4,1399.6v10.5M1426.3,1399.6v10.5M1489.2,1399.6v10.5M1552.1,1399.6v10.5M1615,1399.6v10.5M1677.9,1399.6v10.5M1305.8,852.6h-10.5M1305.8,964.1h-10.5M1305.8,1075.7h-10.5M1305.8,1187.2h-10.5M1305.8,1298.7h-10.5" stroke="#333333" stroke-width="7.2" fill="none"/>
<g font-size="33.3" fill="#4d4d4d">
<text x="1363.4" y="1443.2" text-anchor="middle">−1.0</text>
<text x="1426.3" y="1443.2" text-anchor="middle">−0.5</text>
<text x="1489.2" y="1443.2" text-anchor="middle">0.0</text>
<text x="1552.1" y="1443.2" text-anchor="middle">0.5</text>
<text x="1615" y="1443.2" text-anchor="middle">1.0</text>
<text x="1677.9" y="1443.2" text-anchor="middle">1.5</text>
<text x="1285.6" y="864.5" text-anchor="end">1200</text>
<text x="1285.6" y="976" text-anchor="end">800</text>
<text x="1285.6" y="1087.6" text-anchor="end">400</text>
<text x="1285.6" y="1199.1" text-anchor="end">0</text>
<text x="1285.6" y="1310.6" text-anchor="end">−400</text>
</g>
<text x="1511.2" y="1490.8" text-anchor="middle" font-size="41.8">Extent of Resistance</text>
<text transform="translate(1146.2,1121.2) rotate(-90) scale(1,1)" text-anchor="middle" font-size="42">Biopsies Days from</text>
<text transform="translate(1192.2,1116) rotate(-90) scale(1,1)" text-anchor="middle" font-size="42">the start of treatment</text>
<text x="1762.5" y="1083.7" font-size="42">Primary/Metastatic</text>
<rect x="1762" y="1109.1" width="36" height="36.7" fill="#7f7f7f" fill-opacity="0.4"/>
<path d="M1765.5,1127.3H1794.5" stroke="#f3716b" stroke-width="7.5"/>
<circle cx="1780" cy="1127.3" r="5.5" fill="#f3716b"/>
<text x="1818.5" y="1139.6" font-size="33.7">Metastatic</text>
<rect x="1762" y="1145.5" width="36" height="36.7" fill="#f0a93e" fill-opacity="0.5"/>
<path d="M1765.5,1163.7H1794.5" stroke="#1fbcc4" stroke-width="7.5"/>
<circle cx="1780" cy="1163.7" r="5.5" fill="#1fbcc4"/>
<text x="1818.5" y="1175.4" font-size="33.7">Primary</text>
<clipPath id="cE"><rect x="865" y="1637" width="531.6" height="399.8"/></clipPath>
<g clip-path="url(#cE)">
<rect x="865" y="1637" width="531.6" height="399.8" fill="#fff"/>
<path d="M870.9,1637V2036.8M977.5,1637V2036.8M1084.2,1637V2036.8M1190.8,1637V2036.8M1297.5,1637V2036.8M865,1649H1396.6M865,1746H1396.6M865,1842.8H1396.6M865,1939.8H1396.6M865,2036.7H1396.6" stroke="#ebebeb" stroke-width="3.6" fill="none"/>
<path d="M924.2,1637V2036.8M1030.8,1637V2036.8M1137.5,1637V2036.8M1244.2,1637V2036.8M1350.8,1637V2036.8M865,1697.5H1396.6M865,1794.4H1396.6M865,1891.3H1396.6M865,1988.2H1396.6" stroke="#ebebeb" stroke-width="6.9" fill="none"/>
<g fill="#f3716b"><circle cx="1062.7" cy="1884.6" r="5.4"/><circle cx="1133.5" cy="1860.4" r="5.4"/><circle cx="1154" cy="1882" r="5.4"/><circle cx="1169.6" cy="1809.3" r="5.4"/><circle cx="1173.4" cy="1809.3" r="5.4"/><circle cx="1171.5" cy="1922.6" r="5.4"/><circle cx="1373.9" cy="1790.7" r="5.4"/><circle cx="1101.4" cy="1956.6" r="5.4"/><circle cx="1070.9" cy="1961" r="5.4"/><circle cx="1155.5" cy="1987.9" r="5.4"/><circle cx="1160.3" cy="1987.1" r="5.4"/></g>
<g fill="#1fbcc4"><circle cx="887.5" cy="1957.3" r="5.4"/><circle cx="927.7" cy="1906.6" r="5.4"/><circle cx="928.5" cy="1945" r="5.4"/><circle cx="1137.2" cy="1953.6" r="5.4"/><circle cx="1098.8" cy="1979.7" r="5.4"/><circle cx="1082" cy="1982.3" r="5.4"/><circle cx="1196.5" cy="1982.7" r="5.4"/></g>
<path d="M1062.7,1866 L1067.9,1865.8 L1073.1,1865.6 L1078.3,1865.2 L1083.4,1864.8 L1088.6,1864.3 L1093.8,1863.7 L1099,1863 L1104.2,1862.2 L1109.4,1861.2 L1114.6,1860.1 L1119.8,1858.8 L1124.9,1857.4 L1130.1,1855.8 L1135.3,1854 L1140.5,1851.9 L1145.7,1849.7 L1150.9,1847.3 L1156.1,1844.6 L1161.2,1841.8 L1166.4,1838.9 L1171.6,1835.7 L1176.8,1832.4 L1182,1829 L1187.2,1825.4 L1192.4,1821.7 L1197.6,1817.8 L1202.7,1813.9 L1207.9,1809.8 L1213.1,1805.7 L1218.3,1801.4 L1223.5,1797.1 L1228.7,1792.7 L1233.9,1788.2 L1239,1783.7 L1244.2,1779.1 L1249.4,1774.5 L1254.6,1769.8 L1259.8,1765.1 L1265,1760.3 L1270.2,1755.5 L1275.4,1750.7 L1280.5,1745.8 L1285.7,1740.9 L1290.9,1736 L1296.1,1731.1 L1301.3,1726.1 L1306.5,1721.1 L1311.7,1716.2 L1316.8,1711.1 L1322,1706.1 L1327.2,1701.1 L1332.4,1696 L1337.6,1691 L1342.8,1685.9 L1348,1680.8 L1353.2,1675.7 L1358.3,1670.6 L1363.5,1665.5 L1368.7,1660.3 L1373.9,1655.2 L1373.9,1913.2 L1368.7,1913.1 L1363.5,1913 L1358.3,1912.9 L1353.2,1912.8 L1348,1912.7 L1342.8,1912.7 L1337.6,1912.6 L1332.4,1912.6 L1327.2,1912.6 L1322,1912.6 L1316.8,1912.6 L1311.7,1912.6 L1306.5,1912.6 L1301.3,1912.6 L1296.1,1912.7 L1290.9,1912.8 L1285.7,1912.9 L1280.5,1913.1 L1275.4,1913.2 L1270.2,1913.4 L1265,1913.7 L1259.8,1913.9 L1254.6,1914.2 L1249.4,1914.6 L1244.2,1915 L1239,1915.4 L1233.9,1915.9 L1228.7,1916.5 L1223.5,1917.1 L1218.3,1917.8 L1213.1,1918.6 L1207.9,1919.4 L1202.7,1920.4 L1197.6,1921.5 L1192.4,1922.6 L1187.2,1924 L1182,1925.4 L1176.8,1927 L1171.6,1928.7 L1166.4,1930.6 L1161.2,1932.7 L1156.1,1934.9 L1150.9,1937.3 L1145.7,1939.9 L1140.5,1942.7 L1135.3,1945.7 L1130.1,1948.9 L1124.9,1952.3 L1119.8,1955.9 L1114.6,1959.6 L1109.4,1963.5 L1104.2,1967.6 L1099,1971.8 L1093.8,1976.1 L1088.6,1980.5 L1083.4,1985.1 L1078.3,1989.7 L1073.1,1994.4 L1067.9,1999.2 L1062.7,2004Z" fill="#f77050" fill-opacity="0.4"/>
<path d="M1062.7,1935L1371,1785.1" stroke="#f3716b" stroke-width="8" fill="none"/>
<path d="M887.5,1900.1 L892.6,1901.6 L897.8,1903.2 L903,1904.7 L908.1,1906.2 L913.2,1907.7 L918.4,1909.1 L923.5,1910.6 L928.7,1912 L933.9,1913.5 L939,1914.9 L944.1,1916.3 L949.3,1917.6 L954.5,1919 L959.6,1920.3 L964.8,1921.6 L969.9,1922.9 L975,1924.2 L980.2,1925.4 L985.4,1926.6 L990.5,1927.8 L995.6,1928.9 L1000.8,1930 L1006,1931.1 L1011.1,1932.1 L1016.2,1933.1 L1021.4,1934 L1026.5,1934.9 L1031.7,1935.8 L1036.8,1936.6 L1042,1937.4 L1047.2,1938.1 L1052.3,1938.8 L1057.5,1939.5 L1062.6,1940.1 L1067.8,1940.6 L1072.9,1941.2 L1078,1941.6 L1083.2,1942.1 L1088.3,1942.5 L1093.5,1942.8 L1098.7,1943.2 L1103.8,1943.5 L1109,1943.7 L1114.1,1944 L1119.2,1944.2 L1124.4,1944.4 L1129.5,1944.6 L1134.7,1944.7 L1139.8,1944.8 L1145,1944.9 L1150.2,1945 L1155.3,1945.1 L1160.5,1945.2 L1165.6,1945.2 L1170.8,1945.2 L1175.9,1945.3 L1181,1945.3 L1186.2,1945.2 L1191.3,1945.2 L1196.5,1945.2 L1196.5,2020.2 L1191.3,2018.6 L1186.2,2017 L1181,2015.5 L1175.9,2013.9 L1170.8,2012.4 L1165.6,2010.9 L1160.5,2009.4 L1155.3,2007.9 L1150.2,2006.4 L1145,2004.9 L1139.8,2003.5 L1134.7,2002 L1129.5,2000.6 L1124.4,1999.3 L1119.2,1997.9 L1114.1,1996.6 L1109,1995.2 L1103.8,1994 L1098.7,1992.7 L1093.5,1991.5 L1088.3,1990.3 L1083.2,1989.2 L1078,1988 L1072.9,1987 L1067.8,1985.9 L1062.6,1984.9 L1057.5,1984 L1052.3,1983.1 L1047.2,1982.2 L1042,1981.4 L1036.8,1980.6 L1031.7,1979.9 L1026.5,1979.2 L1021.4,1978.6 L1016.2,1978 L1011.1,1977.4 L1006,1976.9 L1000.8,1976.4 L995.6,1975.9 L990.5,1975.5 L985.4,1975.1 L980.2,1974.8 L975,1974.4 L969.9,1974.1 L964.8,1973.9 L959.6,1973.6 L954.5,1973.4 L949.3,1973.2 L944.1,1973 L939,1972.9 L933.9,1972.7 L928.7,1972.6 L923.5,1972.5 L918.4,1972.4 L913.2,1972.3 L908.1,1972.2 L903,1972.2 L897.8,1972.1 L892.6,1972.1 L887.5,1972.1Z" fill="#3eb6bb" fill-opacity="0.4"/>
<path d="M887.5,1936.1L1196.5,1982.7" stroke="#1fbcc4" stroke-width="8" fill="none"/>
</g>
<rect x="865" y="1637" width="531.6" height="399.8" fill="none" stroke="#333333" stroke-width="4.1"/>
<path d="M924.2,2038.3v10.5M1030.8,2038.3v10.5M1137.5,2038.3v10.5M1244.2,2038.3v10.5M1350.8,2038.3v10.5M863.5,1697.5h-10.5M863.5,1794.4h-10.5M863.5,1891.3h-10.5M863.5,1988.2h-10.5" stroke="#333333" stroke-width="6.9" fill="none"/>
<g font-size="32.3" fill="#4d4d4d">
<text x="924.2" y="2079.2" text-anchor="middle">−2</text>
<text x="1030.8" y="2079.2" text-anchor="middle">−1</text>
<text x="1137.5" y="2079.2" text-anchor="middle">0</text>
<text x="1244.2" y="2079.2" text-anchor="middle">1</text>
<text x="1350.8" y="2079.2" text-anchor="middle">2</text>
<text x="844.6" y="1710.6" text-anchor="end">750</text>
<text x="844.6" y="1807.5" text-anchor="end">500</text>
<text x="844.6" y="1904.4" text-anchor="end">250</text>
<text x="844.6" y="2001.3" text-anchor="end">0</text>
</g>
<text x="1130.5" y="2124.4" text-anchor="middle" font-size="40.5">Extent of resistance</text>
<text transform="translate(770.8,1837) rotate(-90) scale(1,1)" text-anchor="middle" font-size="40">Treatment Length</text>
<text x="911.2" y="1686.9" font-family="'DejaVu Sans Condensed','DejaVu Sans','Liberation Sans',sans-serif" font-stretch="condensed" font-size="33.5">Spearman Rho=0.52, P=0.06</text>
<rect x="871.1" y="1551" width="34.9" height="35.2" fill="#f77050" fill-opacity="0.4"/>
<path d="M874.9,1568.2H902.4" stroke="#f3716b" stroke-width="8"/>
<circle cx="888.6" cy="1567.9" r="5.4" fill="#f3716b"/>
<text x="927" y="1579.6" font-size="32.3">PD</text>
<rect x="871.1" y="1585.9" width="34.9" height="35.2" fill="#3eb6bb" fill-opacity="0.4"/>
<path d="M874.9,1603.1H902.4" stroke="#1fbcc4" stroke-width="8"/>
<circle cx="888.6" cy="1602.8" r="5.4" fill="#1fbcc4"/>
<text x="927" y="1614.6" font-size="32.3">RD</text>
<text x="1002" y="1599.7" font-size="40.5">Treatement Timepoint</text>
</svg>
</body></html>
